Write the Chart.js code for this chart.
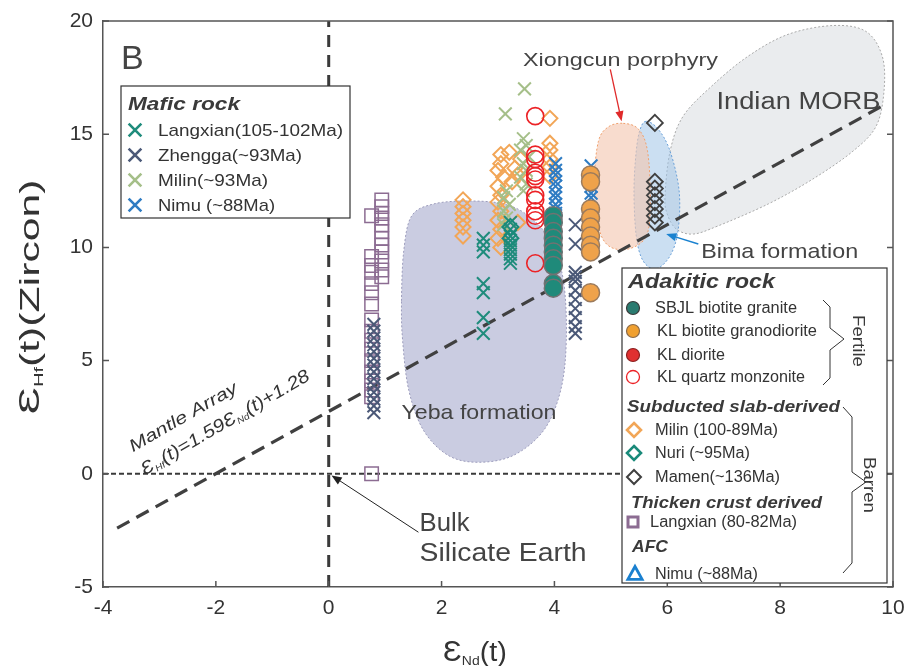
<!DOCTYPE html>
<html><head><meta charset="utf-8">
<script src="https://cdn.jsdelivr.net/npm/chart.js@4/dist/chart.umd.min.js"></script>
<style>html,body{margin:0;padding:0;background:#fff}canvas{display:block}</style>
</head><body>
<canvas id="c" width="906" height="666"></canvas>
<script>
// ---------- data ----------
const xTicks = [-4, -2, 0, 2, 4, 6, 8, 10];
const yTicks = [-5, 0, 5, 10, 15, 20];

// Mafic rock
const langxianMafic = [[2.74,10.4],[2.74,10.1],[2.74,9.8],[2.74,8.4],[2.74,8.0],[2.74,6.9],[2.74,6.2],
  [3.22,11.1],[3.22,10.8],[3.22,10.5],[3.22,10.3],[3.22,10.1],[3.22,9.9],[3.22,9.7],[3.22,9.5],[3.22,9.3]];
const zhengga = [[0.8,6.6],[0.8,6.3],[0.8,6.0],[0.8,5.7],[0.8,5.4],[0.8,5.1],[0.8,4.8],[0.8,4.5],[0.8,4.2],
  [0.8,3.9],[0.8,3.6],[0.8,3.3],[0.8,3.0],[0.8,2.7],
  [4.37,11.0],[4.37,10.15],[4.37,8.9],[4.37,8.7],[4.37,8.5],[4.37,8.1],[4.37,7.7],[4.37,7.3],[4.37,6.9],[4.37,6.5],[4.37,6.2]];
const milinMafic = [[3.47,17.0],[3.13,15.9],[3.45,14.8],[3.5,14.5],[3.4,14.3],[3.55,14.0],[3.45,13.7],[3.5,13.4],
  [3.4,13.1],[3.5,12.8],[3.45,12.5],[3.15,12.5],[3.1,12.2],[3.2,11.9],[3.1,11.6],[3.15,11.3],[3.1,11.0]];
const nimuMafic = [[4.02,13.7],[4.02,13.4],[4.02,13.2],[4.02,12.9],[4.02,12.7],[4.02,12.4],[4.02,12.2],[4.02,11.9],
  [4.02,11.7],[4.02,11.5],[4.02,11.3],[4.65,13.6],[4.65,12.7],[4.65,12.4],[4.65,12.2]];
// Adakitic rock
const sbjlGranite = [[3.98,11.4],[3.98,11.1],[3.98,10.7],[3.98,10.4],[3.98,10.1],[3.98,9.8],[3.98,9.5],[3.98,9.2],[3.98,8.4],[3.98,8.2]];
const klGranodiorite = [[4.64,13.2],[4.64,12.9],[4.64,11.7],[4.64,11.3],[4.64,10.9],[4.64,10.5],[4.64,10.1],[4.64,9.8],[4.64,8.0]];
const klDiorite = [];
const klQuartzMonzonite = [[3.66,15.8],[3.66,14.1],[3.66,13.9],[3.66,13.3],[3.66,13.15],[3.66,13.0],[3.66,12.3],[3.66,12.1],
  [3.66,11.6],[3.66,11.4],[3.66,11.2],[3.66,9.3]];
const milinAdakitic = [[2.38,12.1],[2.38,11.8],[2.38,11.5],[2.38,11.2],[2.38,10.9],[2.38,10.5],
  [3.05,14.1],[3.2,14.2],[3.05,13.7],[3.0,13.4],[3.1,13.1],[3.0,12.7],[3.05,12.3],[3.0,12.0],[3.05,11.6],[3.0,11.2],
  [3.05,10.8],[3.0,10.4],[3.05,10.0],[3.35,11.1],[3.4,13.9],[3.3,13.5],[3.35,13.2],[3.25,12.9],
  [3.92,15.7],[3.92,14.6],[3.92,14.3],[3.92,13.9],[3.92,13.55],[3.92,13.15]];
const nuri = [[3.22,10.9],[3.22,10.4]];
const mamen = [[5.78,15.5],[5.78,12.9],[5.78,12.6],[5.78,12.3],[5.78,12.0],[5.78,11.7],[5.78,11.4],[5.78,11.1]];
const langxianCrust = [[0.94,12.1],[0.94,11.8],[0.94,11.5],[0.94,11.3],[0.94,11.0],[0.94,10.7],[0.94,10.4],[0.94,10.1],
  [0.94,9.8],[0.94,9.4],[0.94,9.0],[0.94,8.7],
  [0.76,11.4],[0.76,9.6],[0.76,9.2],[0.76,8.9],[0.76,8.4],[0.76,8.0],[0.76,7.5],[0.76,6.8],[0.76,6.3],[0.76,5.9],
  [0.76,5.5],[0.76,5.0],[0.76,4.5],[0.76,4.1],[0.76,3.7],[0.76,3.4],[0.76,0.0]];
const nimuAFC = [];

// reference lines
const mantleArray = [[-3.75,-2.4],[9.85,16.3]];
const chondriteNd = [[0,-5],[0,20]];
const chondriteHf = [[-4,0],[10,0]];

// field outlines
const yebaOutline = [[1.29,7.64],[1.33,9.85],[1.47,11.39],[1.86,11.92],[2.48,12.05],[3.10,11.92],[3.54,11.39],[3.93,10.29],
  [4.16,8.52],[4.21,5.88],[4.11,3.68],[3.81,1.92],[3.27,0.81],[2.65,0.51],[2.12,0.81],[1.68,1.92],[1.42,3.68],[1.31,5.88]];
const xiongcunOutline = [[5.22,15.48],[5.49,15.22],[5.65,14.25],[5.70,12.05],[5.63,10.51],[5.31,9.93],[4.96,10.07],[4.78,10.95],[4.71,12.93],[4.78,14.69],[4.96,15.33]];
const bimaOutline = [[5.63,15.57],[5.84,15.22],[6.05,14.25],[6.21,12.49],[6.19,10.73],[6.05,9.63],[5.80,9.05],[5.57,9.41],[5.45,10.51],[5.41,12.49],[5.45,14.25],[5.52,15.22]];
const morbOutline = [[5.96,12.27],[6.05,14.25],[6.28,15.79],[6.78,17.11],[7.43,18.44],[8.14,19.41],[8.94,19.80],[9.52,19.54],
  [9.81,18.44],[9.84,16.89],[9.70,15.35],[9.29,14.25],[8.58,13.02],[7.79,11.92],[6.90,10.95],[6.46,10.59],[6.16,10.81],[6.00,11.47]];

// ---------- styles ----------
const FONT = '"Liberation Sans", Arial, sans-serif';
const TXT = '#333333';
const toXY = a => a.map(p => ({x: p[0], y: p[1]}));
function pts(label, arr, style) { return Object.assign({label, data: toXY(arr), showLine: false}, style); }
function line(label, arr, style) { return Object.assign({label, data: toXY(arr), showLine: true, pointRadius: 0, fill: false, tension: 0}, style); }
const none = 'rgba(0,0,0,0)';

const datasets = [
  pts('SBJL biotite granite', sbjlGranite, {pointStyle:'circle', pointRadius:9, backgroundColor:'#1f8a7a', borderColor:'#727272', borderWidth:1.5}),
  pts('KL biotite granodiorite', klGranodiorite, {pointStyle:'circle', pointRadius:9, backgroundColor:'#efa24a', borderColor:'#9c7b5c', borderWidth:1.5}),
  pts('KL diorite', klDiorite, {pointStyle:'circle', pointRadius:9, backgroundColor:'#e03030', borderColor:'#a02020', borderWidth:1.5}),
  pts('KL quartz monzonite', klQuartzMonzonite, {pointStyle:'circle', pointRadius:8.5, backgroundColor:none, borderColor:'#ec2226', borderWidth:1.6}),
  pts('Nuri (~95Ma)', nuri, {pointStyle:'rectRot', pointRadius:8, backgroundColor:none, borderColor:'#1a8a7a', borderWidth:2}),
  pts('Langxian(105-102Ma)', langxianMafic, {pointStyle:'crossRot', pointRadius:9, borderColor:'#1f8c7c', borderWidth:2}),
  pts('Zhengga(~93Ma)', zhengga, {pointStyle:'crossRot', pointRadius:9, borderColor:'#4b5978', borderWidth:2}),
  pts('Milin(~93Ma)', milinMafic, {pointStyle:'crossRot', pointRadius:9, borderColor:'#a5bf89', borderWidth:2}),
  pts('Nimu (~88Ma) mafic', nimuMafic, {pointStyle:'crossRot', pointRadius:9, borderColor:'#2f7cc3', borderWidth:2}),
  pts('Milin (100-89Ma)', milinAdakitic, {pointStyle:'rectRot', pointRadius:7.5, backgroundColor:none, borderColor:'#f2a657', borderWidth:2}),
  pts('Mamen(~136Ma)', mamen, {pointStyle:'rectRot', pointRadius:8, backgroundColor:none, borderColor:'#404040', borderWidth:1.8}),
  pts('Langxian (80-82Ma)', langxianCrust, {pointStyle:'rect', pointRadius:9.5, backgroundColor:none, borderColor:'#8c6c92', borderWidth:1.5}),
  pts('Nimu (~88Ma) AFC', nimuAFC, {pointStyle:'triangle', pointRadius:8, backgroundColor:none, borderColor:'#1a80d0', borderWidth:2.5}),
  line('Mantle Array', mantleArray, {borderColor:'#404040', borderWidth:3.2, borderDash:[14,8]}),
  line('CHUR Nd', chondriteNd, {borderColor:'#3a3a3a', borderWidth:3, borderDash:[12,8]}),
  line('CHUR Hf', chondriteHf, {borderColor:'#3a3a3a', borderWidth:2, borderDash:[5,3]}),
];

const regions = [
  {pts: morbOutline, fill:'rgba(226,228,232,0.72)', stroke:'#a9a9a9'},
  {pts: bimaOutline, fill:'rgba(160,196,232,0.55)', stroke:'#6aa0d8'},
  {pts: xiongcunOutline, fill:'rgba(244,198,176,0.62)', stroke:'#ef9f6c'},
  {pts: yebaOutline, fill:'rgba(197,200,222,0.92)', stroke:'#9c9cbc'},
];

// ---------- helpers ----------
// draws text widened along its baseline so that it spans `width` px
function fitText(ctx, text, x, y, font, width, align) {
  ctx.font = font; ctx.letterSpacing = '0px'; ctx.textAlign = 'left';
  const w = ctx.measureText(text).width;
  const sx = width ? width / w : 1;
  const total = w * sx;
  let ox = 0;
  if (align === 'center') ox = -total / 2; else if (align === 'right') ox = -total;
  ctx.save(); ctx.translate(x + ox, y); ctx.scale(sx, 1); ctx.fillText(text, 0, 0); ctx.restore();
}
// parts: [text, font, baselineShift]
function richText(ctx, parts, x, y, align, target) {
  ctx.letterSpacing = '0px'; ctx.textAlign = 'left';
  let total = 0;
  for (const p of parts) { ctx.font = p[1]; total += ctx.measureText(p[0]).width; }
  const sx = target ? target / total : 1;
  const full = total * sx;
  let cx = align === 'center' ? -full / 2 : 0;
  ctx.save(); ctx.translate(x + cx, y); ctx.scale(sx, 1);
  let px = 0;
  for (const p of parts) { ctx.font = p[1]; ctx.fillText(p[0], px, p[2] || 0); px += ctx.measureText(p[0]).width; }
  ctx.restore();
}
function marker(ctx, type, x, y, r, stroke, fill, lw) {
  ctx.save(); ctx.beginPath(); ctx.lineWidth = lw; ctx.strokeStyle = stroke;
  if (type === 'circle') ctx.arc(x, y, r, 0, Math.PI * 2);
  else if (type === 'diamond') { ctx.moveTo(x, y - r); ctx.lineTo(x + r, y); ctx.lineTo(x, y + r); ctx.lineTo(x - r, y); ctx.closePath(); }
  else if (type === 'square') ctx.rect(x - r, y - r, 2 * r, 2 * r);
  else if (type === 'triangle') { ctx.moveTo(x, y - r); ctx.lineTo(x + r * 0.95, y + r * 0.72); ctx.lineTo(x - r * 0.95, y + r * 0.72); ctx.closePath(); }
  else if (type === 'cross') { const d = r * 0.7071; ctx.moveTo(x - d, y - d); ctx.lineTo(x + d, y + d); ctx.moveTo(x + d, y - d); ctx.lineTo(x - d, y + d); }
  if (fill) { ctx.fillStyle = fill; ctx.fill(); }
  ctx.stroke(); ctx.restore();
}
function arrow(ctx, a, b, color, lw, head) {
  ctx.save(); ctx.strokeStyle = color; ctx.fillStyle = color; ctx.lineWidth = lw;
  const ang = Math.atan2(b[1] - a[1], b[0] - a[0]);
  const bx = b[0] - Math.cos(ang) * head * 0.8, by = b[1] - Math.sin(ang) * head * 0.8;
  ctx.beginPath(); ctx.moveTo(a[0], a[1]); ctx.lineTo(bx, by); ctx.stroke();
  ctx.beginPath(); ctx.moveTo(b[0], b[1]);
  ctx.lineTo(b[0] - Math.cos(ang - 0.38) * head, b[1] - Math.sin(ang - 0.38) * head);
  ctx.lineTo(b[0] - Math.cos(ang + 0.38) * head, b[1] - Math.sin(ang + 0.38) * head);
  ctx.closePath(); ctx.fill(); ctx.restore();
}
function closedSpline(ctx, p) {
  const n = p.length;
  ctx.moveTo(p[0][0], p[0][1]);
  for (let i = 0; i < n; i++) {
    const p0 = p[(i - 1 + n) % n], p1 = p[i], p2 = p[(i + 1) % n], p3 = p[(i + 2) % n];
    ctx.bezierCurveTo(p1[0] + (p2[0] - p0[0]) / 6, p1[1] + (p2[1] - p0[1]) / 6,
                      p2[0] - (p3[0] - p1[0]) / 6, p2[1] - (p3[1] - p1[1]) / 6, p2[0], p2[1]);
  }
  ctx.closePath();
}

// ---------- plugins ----------
const regionPlugin = {
  id: 'regions',
  beforeDatasetsDraw(chart) {
    const {ctx, scales: {x, y}, chartArea: a} = chart;
    ctx.save();
    ctx.beginPath(); ctx.rect(a.left, a.top, a.width, a.height); ctx.clip();
    for (const r of regions) {
      const p = r.pts.map(q => [x.getPixelForValue(q[0]), y.getPixelForValue(q[1])]);
      ctx.beginPath(); closedSpline(ctx, p);
      ctx.fillStyle = r.fill; ctx.fill();
      ctx.setLineDash([2, 2]); ctx.lineWidth = 1; ctx.strokeStyle = r.stroke; ctx.stroke();
      ctx.setLineDash([]);
    }
    ctx.restore();
  }
};

const decoPlugin = {
  id: 'deco',
  afterDraw(chart) {
    const {ctx, scales: {x, y}, chartArea: a} = chart;
    const P = (dx, dy) => [x.getPixelForValue(dx), y.getPixelForValue(dy)];
    ctx.save();
    // frame + inward ticks
    ctx.strokeStyle = '#555'; ctx.lineWidth = 1.5;
    ctx.beginPath(); ctx.moveTo(a.left, a.top); ctx.lineTo(a.right, a.top); ctx.lineTo(a.right, a.bottom); ctx.stroke();
    ctx.beginPath();
    for (const v of xTicks) { const px = x.getPixelForValue(v); ctx.moveTo(px, a.bottom); ctx.lineTo(px, a.bottom - 6); }
    for (const v of yTicks) { const py = y.getPixelForValue(v); ctx.moveTo(a.left, py); ctx.lineTo(a.left + 6, py); ctx.moveTo(a.right, py); ctx.lineTo(a.right - 6, py); }
    ctx.stroke();

    ctx.fillStyle = '#444'; ctx.textBaseline = 'alphabetic';
    let p = P(-3.68, 17.86); fitText(ctx, 'B', p[0], p[1], '34px ' + FONT, 0);
    p = P(5.17, 18.0); fitText(ctx, 'Xiongcun porphyry', p[0], p[1], '18.5px ' + FONT, 195, 'center');
    arrow(ctx, P(4.99, 17.86), P(5.19, 15.57), '#e02a2a', 1.3, 11);
    p = P(6.87, 16.10); fitText(ctx, 'Indian MORB', p[0], p[1], '23px ' + FONT, 164);
    p = P(6.60, 9.54); fitText(ctx, 'Bima formation', p[0], p[1], '21px ' + FONT, 157);
    arrow(ctx, P(6.55, 10.15), P(5.98, 10.59), '#1a82d0', 1.5, 11);
    p = P(1.29, 2.44); fitText(ctx, 'Yeba formation', p[0], p[1], '21px ' + FONT, 155);
    p = P(1.61, -2.53); fitText(ctx, 'Bulk', p[0], p[1], '25px ' + FONT, 50);
    p = P(1.61, -3.85); fitText(ctx, 'Silicate Earth', p[0], p[1], '25px ' + FONT, 167);
    arrow(ctx, P(1.59, -2.58), P(0.05, -0.07), '#222', 1, 11);

    // Mantle array label (rotated)
    ctx.fillStyle = '#333';
    const ang = -30 * Math.PI / 180;
    p = P(-3.47, 0.95);
    ctx.save(); ctx.translate(p[0], p[1]); ctx.rotate(ang);
    fitText(ctx, 'Mantle Array', 0, 0, 'italic 17px ' + FONT, 122); ctx.restore();
    p = P(-3.26, -0.07);
    ctx.save(); ctx.translate(p[0], p[1]); ctx.rotate(ang);
    const it = 'italic 18px ' + FONT, sub = 'italic 9px ' + FONT;
    richText(ctx, [['Ɛ', it], ['Hf', sub, 3], ['(t)=1.59', it], ['Ɛ', it], ['Nd', sub, 3], ['(t)+1.28', it]], 0, 0, 'left', 192);
    ctx.restore();

    // axis titles
    ctx.fillStyle = '#333';
    ctx.save(); ctx.translate(39, 297); ctx.rotate(-Math.PI / 2);
    richText(ctx, [['Ɛ', '30px ' + FONT], ['Hf', '13px ' + FONT, 4], ['(t)(Zircon)', '28px ' + FONT]], 0, 0, 'center', 235);
    ctx.restore();
    richText(ctx, [['Ɛ', '29px ' + FONT], ['Nd', '13px ' + FONT, 4], ['(t)', '27px ' + FONT]], 475, 661, 'center', 64);

    // ---- Mafic legend ----
    ctx.fillStyle = '#fff'; ctx.strokeStyle = '#333'; ctx.lineWidth = 1.2;
    ctx.fillRect(121, 86, 229, 132); ctx.strokeRect(121, 86, 229, 132);
    ctx.fillStyle = '#3a3a3a';
    fitText(ctx, 'Mafic rock', 128, 110, 'italic bold 19px ' + FONT, 112);
    const maf = [
      ['#1f8c7c', 'Langxian(105-102Ma)', 130, 185],
      ['#4b5978', 'Zhengga(~93Ma)', 155, 144],
      ['#a5bf89', 'Milin(~93Ma)', 180, 110],
      ['#2f7cc3', 'Nimu (~88Ma)', 205, 117],
    ];
    ctx.textBaseline = 'middle';
    for (const m of maf) {
      marker(ctx, 'cross', 135, m[2], 9, m[0], null, 2.6);
      ctx.fillStyle = TXT; fitText(ctx, m[1], 158, m[2] + 1, '17px ' + FONT, m[3]);
    }

    // ---- Adakitic legend ----
    ctx.textBaseline = 'alphabetic';
    ctx.fillStyle = '#fff'; ctx.strokeStyle = '#333'; ctx.lineWidth = 1.2;
    ctx.fillRect(622, 268, 265, 315); ctx.strokeRect(622, 268, 265, 315);
    ctx.fillStyle = '#3a3a3a';
    fitText(ctx, 'Adakitic rock', 628, 288, 'italic bold 20px ' + FONT, 147);
    fitText(ctx, 'Subducted slab-derived', 627, 412, 'italic bold 16.5px ' + FONT, 213);
    fitText(ctx, 'Thicken crust derived', 631, 508, 'italic bold 16.5px ' + FONT, 191);
    fitText(ctx, 'AFC', 632, 552, 'italic bold 16.5px ' + FONT, 36);
    const ada = [
      ['circle', 633, 308, '#3a3a3a', '#2a7b70', 1.2, 6.5, 'SBJL biotite granite', 655, 142],
      ['circle', 633, 331, '#8a6a4a', '#f0a030', 1.2, 6.5, 'KL biotite granodiorite', 657, 160],
      ['circle', 633, 355, '#8a2020', '#e03030', 1.2, 6.5, 'KL diorite', 657, 68],
      ['circle', 633, 377, '#ec2226', null, 1.3, 6.5, 'KL quartz monzonite', 657, 148],
      ['diamond', 634, 430, '#f2a657', null, 2.6, 7, 'Milin (100-89Ma)', 655, 123],
      ['diamond', 634, 453, '#1a8a7a', null, 2.6, 7, 'Nuri (~95Ma)', 655, 95],
      ['diamond', 634, 477, '#404040', null, 2, 7, 'Mamen(~136Ma)', 655, 125],
      ['square', 633, 522, '#8c6c92', null, 3, 5, 'Langxian (80-82Ma)', 650, 147],
      ['triangle', 635, 574, '#1a80d0', null, 2.8, 7.5, 'Nimu (~88Ma)', 655, 103],
    ];
    ctx.textBaseline = 'middle';
    for (const m of ada) {
      marker(ctx, m[0], m[1], m[2], m[6], m[3], m[4], m[5]);
      ctx.fillStyle = TXT; fitText(ctx, m[7], m[8], m[2] + 1, '16px ' + FONT, m[9]);
    }
    // braces
    ctx.strokeStyle = '#333'; ctx.lineWidth = 1;
    ctx.beginPath();
    ctx.moveTo(823, 300); ctx.lineTo(830, 307); ctx.lineTo(830, 328); ctx.lineTo(844, 339); ctx.lineTo(830, 350); ctx.lineTo(830, 378); ctx.lineTo(823, 385);
    ctx.stroke();
    ctx.beginPath();
    ctx.moveTo(843, 407); ctx.lineTo(852, 417); ctx.lineTo(852, 472); ctx.lineTo(866, 482); ctx.lineTo(852, 492); ctx.lineTo(852, 563); ctx.lineTo(843, 573);
    ctx.stroke();
    ctx.fillStyle = '#3a3a3a';
    ctx.save(); ctx.translate(857, 341); ctx.rotate(Math.PI / 2);
    fitText(ctx, 'Fertile', 0, 0, '16px ' + FONT, 52, 'center'); ctx.restore();
    ctx.save(); ctx.translate(869, 485); ctx.rotate(Math.PI / 2);
    fitText(ctx, 'Barren', 0, 0, '17px ' + FONT, 56, 'center'); ctx.restore();

    ctx.restore();
  }
};

// ---------- chart ----------
new Chart(document.getElementById('c'), {
  type: 'scatter',
  data: {datasets},
  options: {
    responsive: false, animation: false, events: [],
    layout: {padding: {top: 21, right: 13, left: 0, bottom: 0}},
    plugins: {legend: {display: false}, tooltip: {enabled: false}},
    scales: {
      x: {
        type: 'linear', min: -4, max: 10,
        afterBuildTicks: s => { s.ticks = xTicks.map(v => ({value: v})); },
        ticks: {font: {family: FONT, size: 21}, color: '#333', padding: 9, maxRotation: 0, autoSkip: false},
        grid: {display: false, drawTicks: false},
        border: {display: true, color: '#555', width: 1.5},
        afterFit: s => { s.height = 79; s.paddingLeft = 0; s.paddingRight = 0; }
      },
      y: {
        type: 'linear', min: -5, max: 20,
        afterBuildTicks: s => { s.ticks = yTicks.map(v => ({value: v})); },
        ticks: {font: {family: FONT, size: 21}, color: '#333', padding: 10, autoSkip: false},
        grid: {display: false, drawTicks: false},
        border: {display: true, color: '#555', width: 1.5},
        afterFit: s => { s.width = 103; s.paddingTop = 0; s.paddingBottom = 0; }
      }
    }
  },
  plugins: [regionPlugin, decoPlugin]
});
</script>
</body></html>
